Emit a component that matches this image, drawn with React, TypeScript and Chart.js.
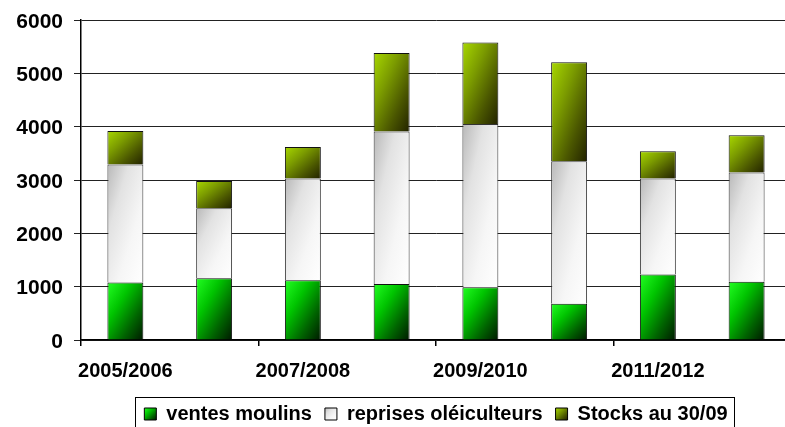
import React, { useEffect, useRef } from "react";
import { Chart, registerables } from "chart.js";

Chart.register(...registerables);

const categories = ["2005/2006", "2006/2007", "2007/2008", "2008/2009", "2009/2010", "2010/2011", "2011/2012", "2012/2013"];
const ventesMoulins = [1080, 1160, 1120, 1050, 990, 680, 1230, 1090];
const reprisesOleiculteurs = [2210, 1310, 1910, 2860, 3060, 2670, 1800, 2050];
const stocks = [630, 510, 590, 1470, 1530, 1860, 510, 700];
const seriesLabels = ["ventes moulins", "reprises oléiculteurs", "Stocks au 30/09"];
const yTicks = [0, 1000, 2000, 3000, 4000, 5000, 6000];

const FONT = '"Liberation Sans", Arial, sans-serif';

const gradientStops: [number, string][][] = [
  [[0, "#22ff22"], [0.35, "#00c400"], [0.7, "#006400"], [1, "#001a00"]],
  [[0, "#b8b8b8"], [0.3, "#e2e2e2"], [0.65, "#f6f6f6"], [1, "#ffffff"]],
  [[0, "#a8d800"], [0.35, "#7c9c00"], [0.7, "#4a5600"], [1, "#222200"]],
];

function diagGradient(ctx: CanvasRenderingContext2D, left: number, top: number, right: number, bottom: number, stops: [number, string][]) {
  const w = Math.max(right - left, 1);
  const h = Math.max(bottom - top, 1);
  const cx = (left + right) / 2;
  const cy = (top + bottom) / 2;
  const k = (w * h) / (w * w + h * h);
  const dx = h * k;
  const dy = w * k;
  const g = ctx.createLinearGradient(cx - dx, cy - dy, cx + dx, cy + dy);
  stops.forEach(([o, c]) => g.addColorStop(o, c));
  return g;
}

const gradientPlugin = {
  id: "gradientBars",
  beforeDraw(chart: any) {
    const ctx = chart.ctx;
    const legend = chart.legend;
    if (legend && legend.legendItems && legend.legendHitBoxes) {
      legend.legendItems.forEach((item: any, i: number) => {
        const hb = legend.legendHitBoxes[i];
        if (!hb) return;
        const top = hb.top + (20 - 12) / 2;
        item.fillStyle = diagGradient(ctx, hb.left, top, hb.left + 12, top + 12, gradientStops[i]);
      });
    }
  },
  beforeDatasetsDraw(chart: any) {
    const ctx = chart.ctx;
    chart.data.datasets.forEach((_: any, di: number) => {
      const meta = chart.getDatasetMeta(di);
      meta.data.forEach((el: any) => {
        const { x, y, base, width } = el.getProps(["x", "y", "base", "width"], true);
        const left = x - width / 2;
        const right = x + width / 2;
        const top = Math.min(y, base);
        const bottom = Math.max(y, base);
        el.options.backgroundColor = diagGradient(ctx, left, top, right, bottom, gradientStops[di]);
      });
    });
  },
  afterDraw(chart: any) {
    const legend = chart.legend;
    if (!legend || !legend.legendHitBoxes || !legend.legendHitBoxes.length) return;
    const hbs = legend.legendHitBoxes;
    const first = hbs[0];
    const last = hbs[hbs.length - 1];
    const left = Math.round(first.left - 9) + 0.5;
    const right = Math.round(last.left + last.width + 6) + 0.5;
    const top = Math.round(first.top - 7) + 0.5;
    const bottom = Math.round(first.top + 20 + 7) + 0.5;
    const ctx = chart.ctx;
    ctx.save();
    ctx.strokeStyle = "#000";
    ctx.lineWidth = 1;
    ctx.strokeRect(left, top, right - left, bottom - top);
    ctx.restore();
  },
};

export default function App() {
  const ref = useRef<HTMLCanvasElement | null>(null);

  useEffect(() => {
    if (!ref.current) return;
    const placeholder = () => "#888888";
    const chart = new Chart(ref.current, {
      type: "bar",
      data: {
        labels: categories,
        datasets: [
          { label: seriesLabels[0], data: ventesMoulins, backgroundColor: placeholder, borderColor: "#111", borderWidth: 1 },
          { label: seriesLabels[1], data: reprisesOleiculteurs, backgroundColor: placeholder, borderColor: "#333", borderWidth: 1 },
          { label: seriesLabels[2], data: stocks, backgroundColor: placeholder, borderColor: "#111", borderWidth: 1 },
        ],
      },
      options: {
        responsive: false,
        animation: false,
        maintainAspectRatio: false,
        layout: { padding: { top: 20, right: 9, left: 0, bottom: 0 } },
        datasets: { bar: { categoryPercentage: 1, barPercentage: 0.405 } },
        plugins: {
          tooltip: { enabled: false },
          title: { display: false },
          legend: {
            display: true,
            position: "bottom",
            fullSize: false,
            labels: {
              boxWidth: 12,
              boxHeight: 12,
              padding: 13,
              color: "#000",
              font: { family: FONT, size: 20, weight: "bold" },
              generateLabels: (chart: any) =>
                chart.data.datasets.map((ds: any, i: number) => ({
                  text: ds.label,
                  fillStyle: "#888",
                  strokeStyle: "#000",
                  lineWidth: 1,
                  hidden: false,
                  datasetIndex: i,
                  fontColor: "#000",
                })),
            },
          },
        },
        scales: {
          x: {
            stacked: true,
            offset: true,
            afterFit: (scale: any) => {
              scale.height = 51;
            },
            grid: {
              display: true,
              offset: true,
              drawOnChartArea: false,
              drawTicks: true,
              tickLength: 6,
              color: (ctx: any) => (ctx.index % 2 === 0 ? "#000" : "rgba(0,0,0,0)"),
              lineWidth: 1.5,
            },
            border: { display: true, color: "#000", width: 1.5 },
            ticks: {
              autoSkip: false,
              maxRotation: 0,
              minRotation: 0,
              padding: 13,
              color: "#000",
              font: { family: FONT, size: 20, weight: "bold" },
              callback: (_v: any, i: number) => (i % 2 === 0 ? categories[i] : ""),
            },
          },
          y: {
            stacked: true,
            min: yTicks[0],
            max: yTicks[yTicks.length - 1],
            afterFit: (scale: any) => {
              scale.width = 81;
            },
            afterBuildTicks: (scale: any) => {
              scale.ticks = yTicks.map((v) => ({ value: v }));
            },
            grid: {
              display: true,
              drawTicks: true,
              tickLength: 7,
              color: "#222",
              lineWidth: 1,
            },
            border: { display: true, color: "#000", width: 1.5 },
            ticks: {
              padding: 11,
              labelOffset: 2,
              color: "#000",
              font: { family: FONT, size: 21, weight: "bold", lineHeight: 0.8 },
              callback: (v: any) => String(v),
            },
          },
        },
      },
      plugins: [gradientPlugin],
    } as any);
    return () => chart.destroy();
  }, []);

  return (
    <div style={{ position: "fixed", left: 0, top: 0, width: 785, height: 427, overflow: "hidden", background: "#fff" }}>
      <canvas ref={ref} width={800} height={434} style={{ display: "block", width: 800, height: 434 }} />
    </div>
  );
}
